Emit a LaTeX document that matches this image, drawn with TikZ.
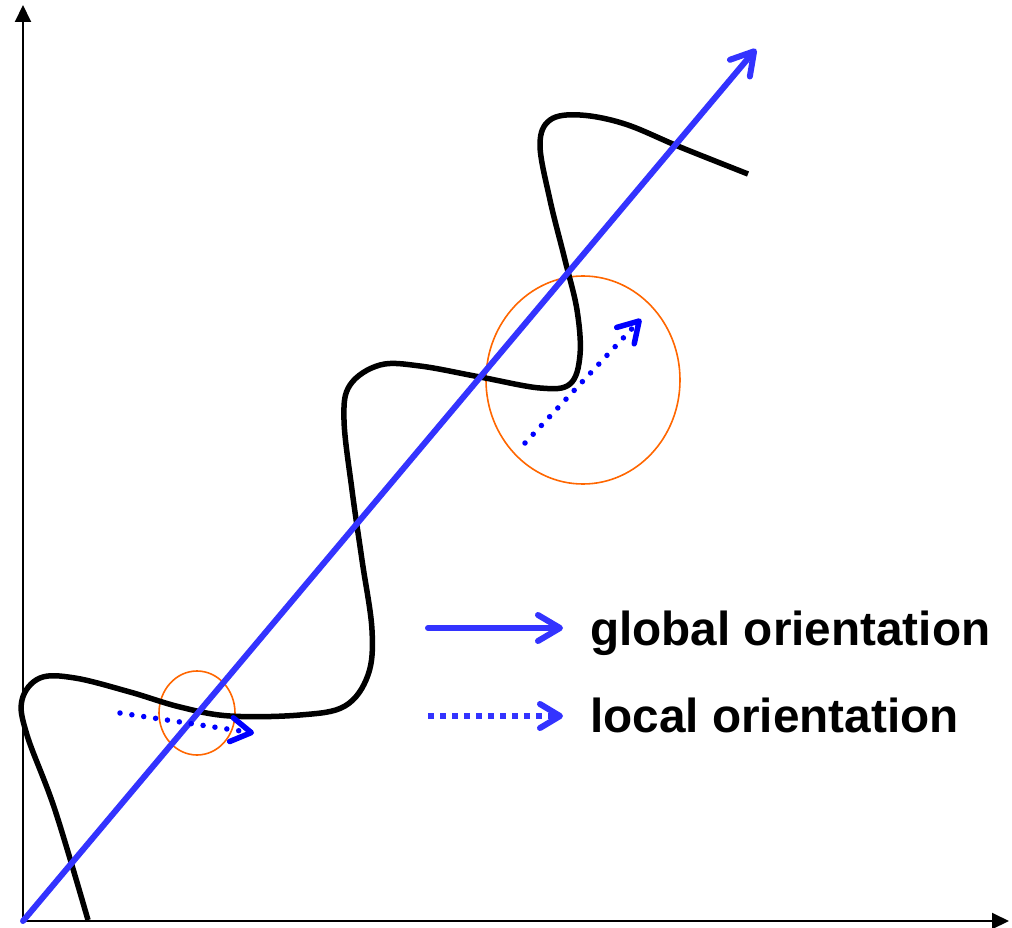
\documentclass[tikz,border=0pt]{standalone}
\usepackage{fontspec}
\setmainfont{Liberation Sans}
\usepackage{tikz}
\usetikzlibrary{arrows.meta}
\definecolor{globalblue}{HTML}{3333FF}
\definecolor{localblue}{HTML}{0000FF}
\definecolor{ringorange}{HTML}{FF6600}

\begin{document}
\begin{tikzpicture}[
  x=1pt, y=-1pt,
  axis/.style={line width=2pt, -{Triangle[length=17pt,width=16pt]}},
  glob/.style={line width=6pt, globalblue, line cap=round,
               -{Straight Barb[length=22pt,width=26pt,round]}},
  loc/.style={line width=5.5pt, localblue, line cap=round,
              dash pattern=on 0pt off 12pt,
              -{Straight Barb[length=20pt,width=24pt,round]}},
  legloc/.style={line width=6pt, globalblue, dash pattern=on 6pt off 6pt,
                 -{Straight Barb[length=20pt,width=24pt,round]}},
  ring/.style={draw=ringorange, line width=1.6pt},
  curve/.style={line width=5.5pt, black, line cap=butt, line join=round},
  lbl/.style={font=\fontsize{47.7}{50}\selectfont\bfseries, inner sep=0pt, anchor=base west}]
\useasboundingbox (0,0) rectangle (1012,928);
\coordinate (O) at (23,921);
\coordinate (ytop) at (23,5);
\coordinate (xend) at (1009,921);
\draw[axis] (O) -- (ytop);
\draw[axis] (O) -- (xend);
\draw[ring] (197,713) ellipse [x radius=38, y radius=42];
\draw[ring] (583,380) ellipse [x radius=97, y radius=104];
\draw[curve] plot[smooth, tension=0.6] coordinates {
  (88,920) (55,810) (27,735) (22,700) (40,678) (75,678) (130,692) (180,707)
  (230,716) (300,715) (345,706) (368,675) (372,630) (362,560) (352,490)
  (344,420) (350,385) (380,365) (420,366) (480,377) (540,388) (570,384)
  (580,355) (577,310) (565,260) (550,200) (540,145) (550,120) (580,115)
  (625,124) (680,147) (748,174)};
\coordinate (gtip) at (756,49);
\draw[glob] (O) -- (gtip);
\coordinate (sa) at (120,713);
\coordinate (sb) at (254,733);
\coordinate (ba) at (525,443);
\coordinate (bb) at (641,319);
\draw[loc] (sa) -- (sb);
\draw[loc] (ba) -- (bb);
\coordinate (g0) at (428,628);
\coordinate (g1) at (563,628);
\coordinate (l0) at (428,716);
\coordinate (l1) at (563,716);
\draw[glob] (g0) -- (g1);
\draw[legloc] (l0) -- (l1);
\node[lbl] (gtxt) at (590,645) {global orientation};
\node[lbl] (ltxt) at (590,732) {local orientation};
\end{tikzpicture}
\end{document}
